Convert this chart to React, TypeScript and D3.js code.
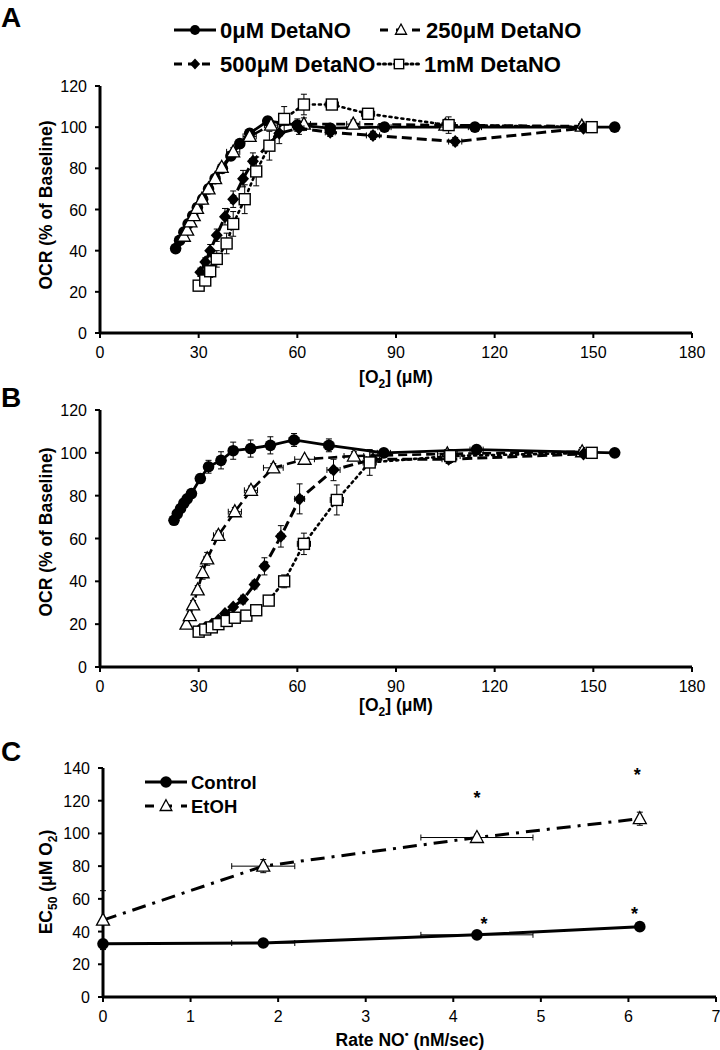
import React from "react";
import * as d3 from "d3";

// ---------- Tick labels ----------
const xTicksO2 = [0, 30, 60, 90, 120, 150, 180];
const yTicksOCR = [0, 20, 40, 60, 80, 100, 120];
const xTicksRate = [0, 1, 2, 3, 4, 5, 6, 7];
const yTicksEC = [0, 20, 40, 60, 80, 100, 120, 140];

// ---------- Panel A ----------
const a0X = [23, 24.2, 25.5, 26.8, 28.2, 29.6, 31.2, 33, 35, 37.2, 39.8, 42.5, 45.5, 51, 60, 70, 86.5, 114, 156.5];
const a0Y = [41, 45, 49, 53, 57, 61, 65, 70, 75, 80, 86, 92, 97, 103, 101, 99.5, 100, 100, 100];
const a0YErr = [1, 1, 1, 1, 1, 1, 1, 1, 1, 2, 2, 2, 2, 2, 3, 2, 2, 2, 1];
const a0XErr = [0.4, 0.4, 0.4, 0.4, 0.4, 0.4, 0.5, 0.5, 0.5, 0.5, 0.8, 0.8, 1, 1, 1.5, 1.5, 2, 2, 1];

const a250X = [25.5, 26.5, 27.5, 28.5, 29.5, 31, 33, 35, 37, 40.5, 45.5, 52, 62, 77, 105, 146.5];
const a250Y = [47, 50, 54, 57, 60.5, 65, 70, 75, 80.5, 88, 95.5, 101, 101.5, 101.5, 101, 100.5];
const a250YErr = [1, 1, 1, 1, 1, 2, 2, 2, 2, 2, 2, 2, 3, 2, 2, 2];
const a250XErr = [0.5, 0.5, 0.5, 0.5, 0.5, 0.5, 1, 1, 1, 2, 2, 2, 2, 2, 3, 1];

const a500X = [30.5, 32, 33.5, 35.5, 38, 40.5, 43.5, 46.5, 54.5, 60.5, 70, 83, 108, 147];
const a500Y = [29.5, 34.5, 40, 47.5, 56.5, 65, 75, 83.5, 97, 99.5, 97.5, 96, 93, 99.5];
const a500YErr = [2, 2, 3, 3, 4, 4, 4, 4, 5, 3, 2, 2, 2, 1];
const a500XErr = [0.5, 0.5, 0.5, 0.5, 0.5, 0.8, 0.8, 1, 1, 1.5, 1.5, 2, 2, 1];

const a1mX = [30, 32, 33.5, 35.5, 38.5, 40.5, 44, 47.5, 51.5, 56, 62, 70.5, 81.5, 106, 149.5];
const a1mY = [23, 25.5, 30, 36, 43.5, 53, 65, 78.5, 91, 104, 111, 111, 106.5, 101, 100];
const a1mYErr = [1, 2, 3, 4, 5, 6, 7, 7, 7, 6, 5, 2, 2, 4, 1];
const a1mXErr = [0.5, 0.5, 0.5, 0.5, 0.5, 1, 1, 1, 1, 1, 1, 2, 2, 2, 1];

// ---------- Panel B ----------
const b0X = [22.5, 23.5, 24.5, 25.5, 26.5, 27.8, 30.5, 33, 36.8, 40.5, 45.8, 51.8, 59, 69.6, 86.3, 114.5, 156.5];
const b0Y = [68.5, 71.5, 74, 76.5, 78.5, 81, 88, 93.5, 96.5, 101, 102, 103.5, 106, 103.5, 100, 101.5, 100];
const b0YErr = [1, 1, 1, 1, 1, 1, 2, 3, 4, 4, 4, 4, 3, 3, 2, 2, 1];
const b0XErr = [0.4, 0.4, 0.4, 0.4, 0.4, 0.5, 0.5, 0.5, 0.8, 0.8, 1, 1, 1.5, 1.5, 2, 2, 1];

const b250X = [26.3, 27.3, 28.3, 29.7, 31.2, 32.6, 36, 41, 45.9, 52.7, 62.2, 77.2, 105.6, 146.6];
const b250Y = [20, 24, 29, 36, 44, 50.5, 61.5, 72.5, 82.5, 93, 97, 98.5, 99.5, 100.5];
const b250YErr = [1, 2, 2, 2, 3, 3, 2, 2, 2, 2, 1, 2, 2, 2];
const b250XErr = [0.5, 0.5, 0.5, 0.5, 0.5, 1, 1.5, 2, 2, 3, 3, 3, 3, 1];

const b500X = [30, 32, 34, 36, 38, 40.5, 43.5, 47, 50, 55, 60.7, 71, 83, 106, 147];
const b500Y = [17, 18.5, 20, 22, 25, 28, 31.5, 38.5, 47, 61, 78.5, 92, 97, 97, 99.5];
const b500YErr = [1, 1, 1, 1, 1, 1, 2, 2, 4, 5, 7, 5, 3, 2, 1];
const b500XErr = [0.5, 0.5, 0.5, 0.5, 0.5, 0.5, 0.8, 1, 1, 1, 1.5, 2, 2, 2, 1];

const b1mX = [30, 32, 34, 36, 38.5, 41, 44.5, 47.5, 51.3, 56, 62, 72, 82, 106.5, 149.5];
const b1mY = [16.5, 17.5, 18.5, 20, 21.5, 23, 24, 26.5, 31, 40, 57.5, 78, 95.5, 98.5, 100];
const b1mYErr = [1, 1, 1, 1, 1, 1, 2, 2, 2, 3, 5, 7, 6, 3, 1];
const b1mXErr = [0.5, 0.5, 0.5, 0.5, 0.5, 0.5, 0.8, 1, 1, 1.5, 2, 2, 2, 3, 1];

// ---------- Panel C ----------
const rateX = [0, 1.83, 4.27, 6.13];
const rateXErr = [0, 0.36, 0.64, 0];
const controlY = [32.5, 33, 38, 43];
const controlYErr = [0.5, 0.5, 0.5, 0.5];
const etohY = [47, 80, 97.5, 109];
const etohYErr = [18, 4, 2, 4];
const starControlX = [4.35, 6.07];
const starControlY = [46, 52];
const starEtohX = [4.27, 6.1];
const starEtohY = [123, 137];

type Marker = "circle" | "triangle" | "diamond" | "square";

const FONT = "Liberation Sans, Arial, sans-serif";

function MarkerShape({ type, x, y, s = 1 }: { type: Marker; x: number; y: number; s?: number }) {
  if (type === "circle") return <circle cx={x} cy={y} r={5.8 * s} fill="#000" />;
  if (type === "diamond")
    return (
      <path
        d={`M${x},${y - 6.5 * s}L${x + 6 * s},${y}L${x},${y + 6.5 * s}L${x - 6 * s},${y}Z`}
        fill="#000"
      />
    );
  if (type === "square")
    return (
      <rect x={x - 5.5 * s} y={y - 5.5 * s} width={11 * s} height={11 * s} fill="#fff" stroke="#000" strokeWidth={1.4} />
    );
  return (
    <path
      d={`M${x},${y - 7 * s}L${x + 6.5 * s},${y + 5 * s}L${x - 6.5 * s},${y + 5 * s}Z`}
      fill="#fff"
      stroke="#000"
      strokeWidth={1.3}
    />
  );
}

type Series = {
  x: number[];
  y: number[];
  yErr: number[];
  xErr: number[];
  marker: Marker;
  dash: string;
  width: number;
  cap?: "round" | "butt";
};

function SeriesG({ s, xs, ys }: { s: Series; xs: d3.ScaleLinear<number, number>; ys: d3.ScaleLinear<number, number> }) {
  const pts = s.x.map((v, i) => [xs(v), ys(s.y[i])] as [number, number]);
  const line = d3.line()(pts) || "";
  return (
    <g>
      <path d={line} fill="none" stroke="#000" strokeWidth={s.width} strokeDasharray={s.dash} strokeLinecap={s.cap || "butt"} />
      {s.x.map((v, i) => {
        const cx = xs(v);
        const cy = ys(s.y[i]);
        const ye = s.yErr[i];
        const xe = s.xErr[i];
        const y1 = ys(s.y[i] + ye);
        const y2 = ys(s.y[i] - ye);
        const x1 = xs(v - xe);
        const x2 = xs(v + xe);
        return (
          <g key={i} stroke="#000" strokeWidth={1}>
            {ye > 0 && (
              <>
                <line x1={cx} x2={cx} y1={y1} y2={y2} />
                <line x1={cx - 3} x2={cx + 3} y1={y1} y2={y1} />
                <line x1={cx - 3} x2={cx + 3} y1={y2} y2={y2} />
              </>
            )}
            {xe > 0 && (
              <>
                <line x1={x1} x2={x2} y1={cy} y2={cy} />
                <line x1={x1} x2={x1} y1={cy - 3} y2={cy + 3} />
                <line x1={x2} x2={x2} y1={cy - 3} y2={cy + 3} />
              </>
            )}
          </g>
        );
      })}
      {s.x.map((v, i) => (
        <MarkerShape key={"m" + i} type={s.marker} x={xs(v)} y={ys(s.y[i])} />
      ))}
    </g>
  );
}

function Axes({
  xs,
  ys,
  xTicks,
  yTicks,
}: {
  xs: d3.ScaleLinear<number, number>;
  ys: d3.ScaleLinear<number, number>;
  xTicks: number[];
  yTicks: number[];
}) {
  const [x0, x1] = xs.range();
  const [y0, y1] = ys.range();
  return (
    <g fontFamily={FONT} fontSize={16} fill="#000">
      <line x1={x0} x2={x0} y1={y0} y2={y1} stroke="#000" strokeWidth={3} />
      <line x1={x0} x2={x1} y1={y0} y2={y0} stroke="#000" strokeWidth={3} />
      {yTicks.map((t) => (
        <g key={"y" + t}>
          <line x1={x0 - 5} x2={x0} y1={ys(t)} y2={ys(t)} stroke="#000" strokeWidth={2} />
          <text x={x0 - 13} y={ys(t) + 6} textAnchor="end">
            {t}
          </text>
        </g>
      ))}
      {xTicks.map((t) => (
        <g key={"x" + t}>
          <line x1={xs(t)} x2={xs(t)} y1={y0} y2={y0 + 5} stroke="#000" strokeWidth={2} />
          <text x={xs(t)} y={y0 + 25} textAnchor="middle">
            {t}
          </text>
        </g>
      ))}
    </g>
  );
}

function O2Title({ x, y }: { x: number; y: number }) {
  return (
    <text x={x} y={y} textAnchor="middle" fontFamily={FONT} fontWeight="bold" fontSize={17.5}>
      [O
      <tspan fontSize={12} dy={5}>
        2
      </tspan>
      <tspan dy={-5}>] (μM)</tspan>
    </text>
  );
}

function OCRTitle({ cy }: { cy: number }) {
  return (
    <text
      transform={`translate(52,${cy}) rotate(-90)`}
      textAnchor="middle"
      fontFamily={FONT}
      fontWeight="bold"
      fontSize={17.5}
    >
      OCR (% of Baseline)
    </text>
  );
}

export default function App() {
  const xO2A = d3.scaleLinear().domain([0, 180]).range([100, 692]);
  const yA = d3.scaleLinear().domain([0, 120]).range([333, 86]);
  const yB = d3.scaleLinear().domain([0, 120]).range([667, 410]);
  const xC = d3.scaleLinear().domain([0, 7]).range([103, 716]);
  const yC = d3.scaleLinear().domain([0, 140]).range([997, 768]);

  const dash0 = "";
  const dash250 = "9,5";
  const dash500 = "10,5";
  const dash1m = "2,4";

  const seriesA: Series[] = [
    { x: a0X, y: a0Y, yErr: a0YErr, xErr: a0XErr, marker: "circle", dash: dash0, width: 2.8 },
    { x: a250X, y: a250Y, yErr: a250YErr, xErr: a250XErr, marker: "triangle", dash: dash250, width: 2.6 },
    { x: a500X, y: a500Y, yErr: a500YErr, xErr: a500XErr, marker: "diamond", dash: dash500, width: 3 },
    { x: a1mX, y: a1mY, yErr: a1mYErr, xErr: a1mXErr, marker: "square", dash: dash1m, width: 2.6, cap: "round" },
  ];
  const seriesB: Series[] = [
    { x: b0X, y: b0Y, yErr: b0YErr, xErr: b0XErr, marker: "circle", dash: dash0, width: 2.8 },
    { x: b250X, y: b250Y, yErr: b250YErr, xErr: b250XErr, marker: "triangle", dash: dash250, width: 2.6 },
    { x: b500X, y: b500Y, yErr: b500YErr, xErr: b500XErr, marker: "diamond", dash: dash500, width: 3 },
    { x: b1mX, y: b1mY, yErr: b1mYErr, xErr: b1mXErr, marker: "square", dash: dash1m, width: 2.6, cap: "round" },
  ];
  const seriesC: Series[] = [
    { x: rateX, y: controlY, yErr: controlYErr, xErr: rateXErr, marker: "circle", dash: "", width: 3 },
    { x: rateX, y: etohY, yErr: etohYErr, xErr: rateXErr, marker: "triangle", dash: "14,7,3,7", width: 3 },
  ];

  const legendA = [
    { label: "0μM DetaNO", marker: "circle" as Marker, dash: dash0, x: 174, y: 30 },
    { label: "250μM DetaNO", marker: "triangle" as Marker, dash: "8,8", x: 380, y: 30 },
    { label: "500μM DetaNO", marker: "diamond" as Marker, dash: "8,6", x: 174, y: 64 },
    { label: "1mM DetaNO", marker: "square" as Marker, dash: "2,3.5", x: 378, y: 64 },
  ];
  const legendC = [
    { label: "Control", marker: "circle" as Marker, dash: "", y: 782 },
    { label: "EtOH", marker: "triangle" as Marker, dash: "9,9", y: 806 },
  ];

  return (
    <svg width={720} height={1050} style={{ position: "absolute", left: 0, top: 0, background: "#fff" }}>
      <rect width={720} height={1050} fill="#fff" />
      {/* Panel letters */}
      <text x={1} y={27} fontFamily={FONT} fontWeight="bold" fontSize={28}>A</text>
      <text x={1} y={407} fontFamily={FONT} fontWeight="bold" fontSize={28}>B</text>
      <text x={1} y={761} fontFamily={FONT} fontWeight="bold" fontSize={28}>C</text>

      {/* Legend A */}
      {legendA.map((l) => (
        <g key={l.label}>
          <line x1={l.x} x2={l.x + 42} y1={l.y} y2={l.y} stroke="#000" strokeWidth={3} strokeDasharray={l.dash} strokeLinecap={l.marker === "square" ? "round" : "butt"} />
          <MarkerShape type={l.marker} x={l.x + 21} y={l.y} s={0.85} />
          <text x={l.x + 46} y={l.y + 8} fontFamily={FONT} fontWeight="bold" fontSize={22}>
            {l.label}
          </text>
        </g>
      ))}

      {/* Panel A */}
      <Axes xs={xO2A} ys={yA} xTicks={xTicksO2} yTicks={yTicksOCR} />
      {seriesA.map((s, i) => (
        <SeriesG key={i} s={s} xs={xO2A} ys={yA} />
      ))}
      <O2Title x={396} y={383} />
      <OCRTitle cy={205} />

      {/* Panel B */}
      <Axes xs={xO2A} ys={yB} xTicks={xTicksO2} yTicks={yTicksOCR} />
      {seriesB.map((s, i) => (
        <SeriesG key={i} s={s} xs={xO2A} ys={yB} />
      ))}
      <O2Title x={396} y={711} />
      <OCRTitle cy={532} />

      {/* Panel C */}
      <Axes xs={xC} ys={yC} xTicks={xTicksRate} yTicks={yTicksEC} />
      {seriesC.map((s, i) => (
        <SeriesG key={i} s={s} xs={xC} ys={yC} />
      ))}
      {starControlX.map((v, i) => (
        <text key={"sc" + i} x={xC(v)} y={yC(starControlY[i]) + 8} textAnchor="middle" fontFamily={FONT} fontWeight="bold" fontSize={18}>*</text>
      ))}
      {starEtohX.map((v, i) => (
        <text key={"se" + i} x={xC(v)} y={yC(starEtohY[i]) + 8} textAnchor="middle" fontFamily={FONT} fontWeight="bold" fontSize={18}>*</text>
      ))}
      {legendC.map((l) => (
        <g key={l.label}>
          <line x1={145} x2={187} y1={l.y} y2={l.y} stroke="#000" strokeWidth={3} strokeDasharray={l.dash} />
          <MarkerShape type={l.marker} x={166} y={l.y} s={l.marker === "circle" ? 1 : 0.9} />
          <text x={191} y={l.y + 7} fontFamily={FONT} fontWeight="bold" fontSize={18.5}>
            {l.label}
          </text>
        </g>
      ))}
      <text x={410} y={1046} textAnchor="middle" fontFamily={FONT} fontWeight="bold" fontSize={17.5}>
        Rate NO
        <tspan fontSize={11} dy={-8}>•</tspan>
        <tspan dy={8}>{"  (nM/sec)"}</tspan>
      </text>
      <text
        transform={`translate(52,${882}) rotate(-90)`}
        textAnchor="middle"
        fontFamily={FONT}
        fontWeight="bold"
        fontSize={17.5}
      >
        EC
        <tspan fontSize={12} dy={5}>50</tspan>
        <tspan dy={-5}> (μM O</tspan>
        <tspan fontSize={12} dy={5}>2</tspan>
        <tspan dy={-5}>)</tspan>
      </text>
    </svg>
  );
}
